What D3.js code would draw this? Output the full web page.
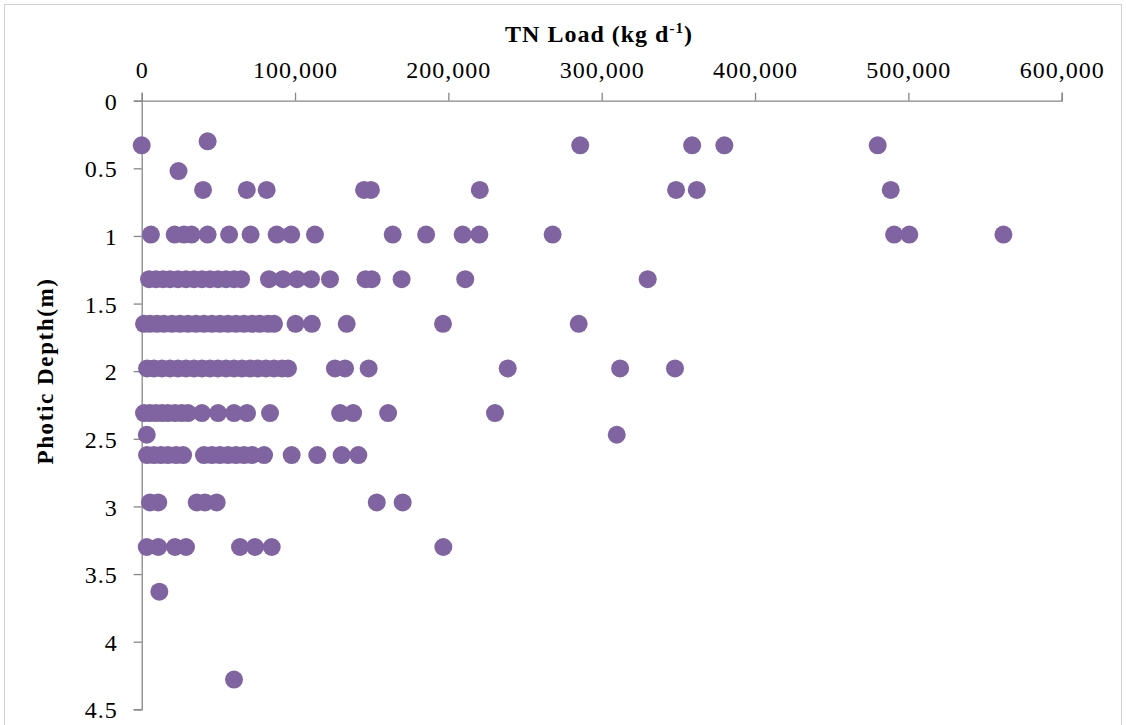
<!DOCTYPE html>
<html>
<head>
<meta charset="utf-8">
<script src="https://cdn.jsdelivr.net/npm/d3@7/dist/d3.min.js"></script>
<style>
  html, body { margin: 0; padding: 0; background: #fff; }
  svg { display: block; }
  .tick text { font-family: "Liberation Serif", "Times New Roman", serif; font-size: 24px; fill: #000; letter-spacing: 1px; }
</style>
</head>
<body>
<svg id="chart" width="1126" height="725"></svg>
<script>
// Photic depth levels (m) and the TN load values (kg/d) observed at each level
const depthLevels = [0.3, 0.33, 0.52, 0.66, 0.99, 1.32, 1.65, 1.98, 2.31, 2.47, 2.62, 2.97, 3.3, 3.63, 4.28];
const loads_0_30 = [43000];
const loads_0_33 = [0, 286000, 359000, 380000, 480000];
const loads_0_52 = [24000];
const loads_0_66 = [40000, 68500, 81500, 145000, 149500, 220500, 348500, 362000, 488500];
const loads_0_99 = [6000, 21500, 27500, 32500, 43000, 57000, 71000, 88000, 97500, 113000, 163700, 185500, 209300, 220200, 268000, 490700, 500600, 562000];
const loads_1_32 = [4800, 9300, 13900, 18500, 23700, 28900, 34100, 39300, 44500, 49700, 55000, 60200, 64800, 83000, 92100, 101300, 110400, 122800, 146000, 150000, 169500, 211000, 330000];
const loads_1_65 = [1500, 5400, 10000, 14500, 19800, 25000, 30200, 35400, 40600, 45800, 51000, 56300, 61500, 66700, 71900, 77100, 82400, 86300, 100300, 111000, 133700, 196500, 285000];
const loads_1_98 = [3500, 8000, 13200, 18500, 23700, 28900, 34100, 39300, 44500, 49700, 55000, 60200, 65400, 70600, 75800, 81000, 86300, 91500, 95400, 126000, 132600, 148000, 238700, 312000, 347800];
const loads_2_31 = [1500, 5400, 9300, 13200, 17100, 21700, 26100, 30200, 39300, 49800, 60200, 68700, 83700, 129400, 137900, 160700, 230400];
const loads_2_47 = [3300, 309800];
const loads_2_62 = [3500, 8000, 12600, 17100, 22400, 27000, 40600, 45800, 51000, 56300, 61500, 66700, 71900, 79800, 97800, 114500, 130400, 141300];
const loads_2_97 = [5400, 10800, 35900, 41300, 48900, 153300, 170200];
const loads_3_30 = [3300, 10800, 21700, 28900, 64100, 73900, 84800, 196700];
const loads_3_63 = [11500];
const loads_4_28 = [60200];
const loadsByDepth = [loads_0_30, loads_0_33, loads_0_52, loads_0_66, loads_0_99, loads_1_32, loads_1_65, loads_1_98, loads_2_31, loads_2_47, loads_2_62, loads_2_97, loads_3_30, loads_3_63, loads_4_28];

const xTicks = [0, 100000, 200000, 300000, 400000, 500000, 600000];
const yTicks = [0, 0.5, 1, 1.5, 2, 2.5, 3, 3.5, 4, 4.5];

const points = [];
depthLevels.forEach((d, i) => loadsByDepth[i].forEach(v => points.push({ load: v, depth: d })));

const svg = d3.select("#chart");
const axisColor = "#868686";
const dotColor = "#8064A2";

// outer chart border
svg.append("rect").attr("x", 4.5).attr("y", 4.5).attr("width", 1117).attr("height", 760)
  .attr("fill", "none").attr("stroke", "#d0d0d0").attr("stroke-width", 1);

const x = d3.scaleLinear().domain([0, 600000]).range([141.7, 1061.7]);
const y = d3.scaleLinear().domain([0, 4.5]).range([100.7, 709.3]);

const fmt = d3.format(",");

const xAxis = svg.append("g").attr("transform", `translate(0,${y(0)})`)
  .call(d3.axisTop(x).tickValues(xTicks).tickFormat(fmt).tickSizeOuter(0).tickSize(8).tickPadding(15));
const yAxis = svg.append("g").attr("transform", `translate(${x(0)},0)`)
  .call(d3.axisLeft(y).tickValues(yTicks).tickFormat(d => d === 0 ? "0" : String(d)).tickSizeOuter(0).tickSize(8).tickPadding(16));

[xAxis, yAxis].forEach(g => {
  g.select(".domain").attr("stroke", axisColor).attr("stroke-width", 1.3);
  g.selectAll(".tick line").attr("stroke", axisColor).attr("stroke-width", 1.3);
});
yAxis.selectAll(".tick text").attr("dy", "0.36em");

// dots
svg.append("g").selectAll("circle").data(points).join("circle")
  .attr("cx", d => x(d.load)).attr("cy", d => y(d.depth)).attr("r", 9)
  .attr("fill", dotColor);

// title
const title = svg.append("text").attr("x", 599).attr("y", 42).attr("text-anchor", "middle")
  .style("font-family", "'Liberation Serif', 'Times New Roman', serif").style("font-weight", "bold")
  .style("font-size", "24px").style("letter-spacing", "1px").attr("fill", "#000");
title.append("tspan").text("TN Load (kg d");
title.append("tspan").attr("dy", -9).style("font-size", "15px").text("-1");
title.append("tspan").attr("dy", 9).text(")");

// y axis title
svg.append("text").attr("transform", "translate(53,371) rotate(-90)").attr("text-anchor", "middle")
  .style("font-family", "'Liberation Serif', 'Times New Roman', serif").style("font-weight", "bold")
  .style("font-size", "23px").style("letter-spacing", "1.6px").attr("fill", "#000").text("Photic Depth(m)");
</script>
</body>
</html>
